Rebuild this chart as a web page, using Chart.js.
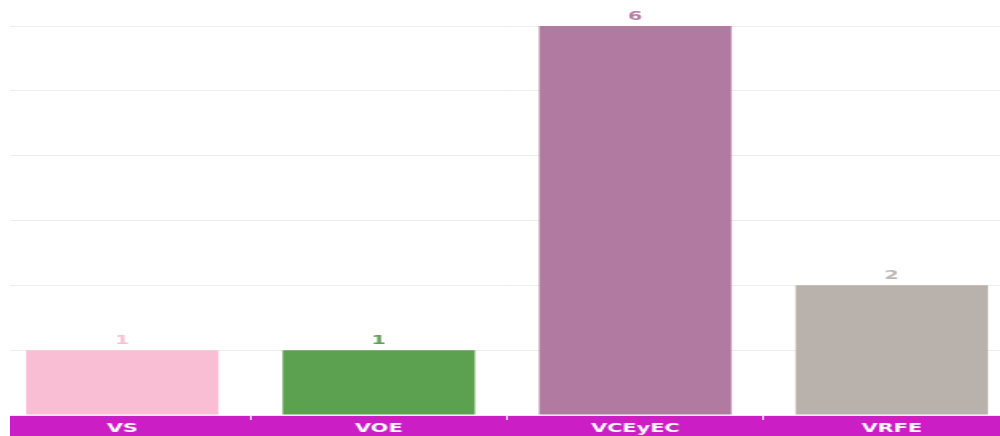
<!DOCTYPE html>
<html>
<head>
<meta charset="utf-8">
<script src="https://cdn.jsdelivr.net/npm/chart.js@4.4.1/dist/chart.umd.min.js"></script>
<style>
  html, body { margin: 0; padding: 0; background: #ffffff; }
  #clip { position: absolute; left: 10px; top: 0; width: 990px; height: 436px; overflow: hidden; }
  #stretch { position: absolute; left: -16px; top: 0; width: 641px; height: 436px; transform: scaleX(1.6006); transform-origin: 0 0; }
</style>
</head>
<body>
<div id="clip"><div id="stretch"><canvas id="c"></canvas></div></div>
<script>
const categories = ['VS', 'VOE', 'VCEyEC', 'VRFE'];
const values = [1, 1, 6, 2];
const barColors = ['#F9BDD4', '#5BA150', '#B17AA1', '#B9B1AC'];
const labelColors = ['#F7BFD3', '#5E9E55', '#B57FA5', '#BDB6B1'];
const yTicks = [0, 1, 2, 3, 4, 5, 6];

const bandPlugin = {
  id: 'band',
  beforeDraw(chart) {
    const { ctx, chartArea } = chart;
    ctx.save();
    ctx.fillStyle = '#CB1EC4';
    ctx.fillRect(0, chartArea.bottom + 1, chart.width, chart.height - chartArea.bottom - 1);
    ctx.restore();
  }
};

const valueLabels = {
  id: 'valueLabels',
  afterDatasetsDraw(chart) {
    const { ctx } = chart;
    const meta = chart.getDatasetMeta(0);
    ctx.save();
    ctx.font = 'bold 13px "DejaVu Sans"';
    ctx.textAlign = 'center';
    ctx.textBaseline = 'alphabetic';
    meta.data.forEach((bar, i) => {
      ctx.fillStyle = labelColors[i];
      ctx.fillText(String(values[i]), bar.x, bar.y - 6.5);
    });
    ctx.restore();
  }
};

new Chart(document.getElementById('c'), {
  type: 'bar',
  data: {
    labels: categories,
    datasets: [{
      data: values,
      backgroundColor: barColors,
      borderWidth: 0,
      categoryPercentage: 1,
      barPercentage: 0.75
    }]
  },
  options: {
    responsive: true,
    maintainAspectRatio: false,
    animation: false,
    devicePixelRatio: 1,
    layout: { padding: { top: 26, left: 0, right: 0, bottom: 0 } },
    plugins: { legend: { display: false }, tooltip: { enabled: false } },
    scales: {
      x: {
        offset: true,
        afterFit(scale) { scale.height = 21; },
        grid: { display: true, drawOnChartArea: false, drawTicks: true, tickLength: 5, color: '#ffffff', offset: true },
        border: { display: false },
        ticks: { color: '#ffffff', font: { family: 'DejaVu Sans', size: 13, weight: 'bold' }, padding: 1, maxRotation: 0, autoSkip: false }
      },
      y: {
        min: 0, max: 6,
        afterFit(scale) { scale.width = 0; },
        afterBuildTicks(scale) { scale.ticks = yTicks.map(v => ({ value: v })); },
        grid: { color: '#EDEDED', drawTicks: false, lineWidth: 1 },
        border: { display: false },
        ticks: { display: false }
      }
    }
  },
  plugins: [bandPlugin, valueLabels]
});
</script>
</body>
</html>
